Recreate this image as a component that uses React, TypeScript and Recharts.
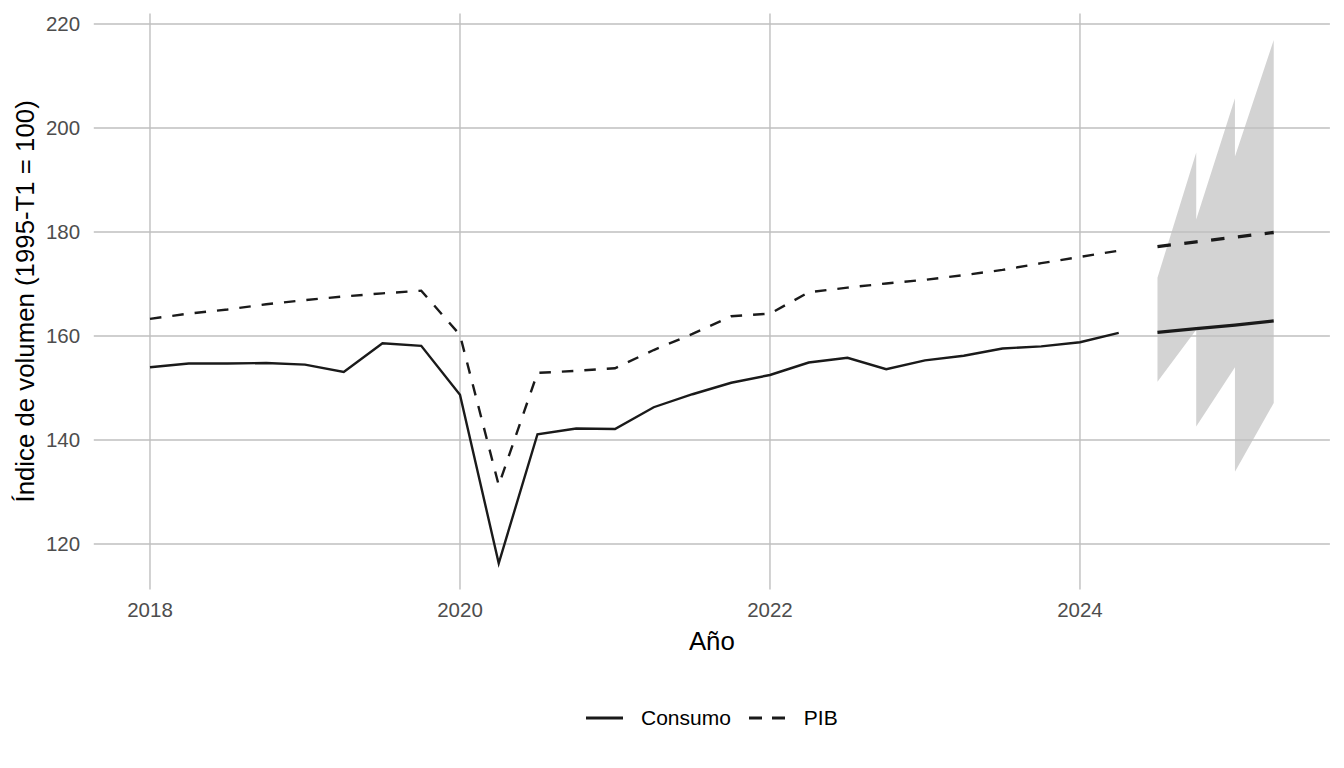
import { ComposedChart, Line, Area, XAxis, YAxis, ReferenceLine, Label } from 'recharts';

// historical quarters (year fraction)
const quarters = [
  2018, 2018.25, 2018.5, 2018.75, 2019, 2019.25, 2019.5, 2019.75,
  2020, 2020.25, 2020.5, 2020.75, 2021, 2021.25, 2021.5, 2021.75,
  2022, 2022.25, 2022.5, 2022.75, 2023, 2023.25, 2023.5, 2023.75,
  2024, 2024.25,
];

const consumo = [
  154.0, 154.7, 154.7, 154.8, 154.5, 153.1, 158.6, 158.1,
  148.7, 116.3, 141.1, 142.2, 142.1, 146.3, 148.8, 151.0,
  152.5, 154.9, 155.8, 153.6, 155.3, 156.2, 157.6, 158.0,
  158.8, 160.6,
];

const pib = [
  163.3, 164.3, 165.1, 166.1, 166.9, 167.6, 168.2, 168.7,
  160.2, 131.3, 152.9, 153.3, 153.8, 157.3, 160.4, 163.8,
  164.3, 168.4, 169.3, 170.1, 170.8, 171.7, 172.7, 174.0,
  175.2, 176.4,
];

// forecast
const forecastQuarters = [2024.5, 2024.75, 2025, 2025.25];
const consumoForecast = [160.7, 161.4, 162.1, 162.9];
const pibForecast = [177.2, 178.1, 179.0, 179.9];

// interval band (rows as drawn, both series share one ribbon)
const ribbonX = [2024.5, 2024.75, 2024.75, 2025, 2025, 2025.25];
const ribbonLo = [151.2, 161.2, 142.6, 154.0, 133.9, 147.1];
const ribbonHi = [171.2, 195.3, 182.4, 205.7, 194.5, 216.9];

const xTicks = [2018, 2020, 2022, 2024];
const yTicks = [120, 140, 160, 180, 200, 220];

const consumoData = quarters.map((x, i) => ({ x, v: consumo[i] }));
const pibData = quarters.map((x, i) => ({ x, v: pib[i] }));
const consumoFcData = forecastQuarters.map((x, i) => ({ x, v: consumoForecast[i] }));
const pibFcData = forecastQuarters.map((x, i) => ({ x, v: pibForecast[i] }));
const ribbonData = ribbonX.map((x, i) => ({ x, band: [ribbonLo[i], ribbonHi[i]] }));

const FONT = '"Liberation Sans", Arial, Helvetica, sans-serif';
const INK = '#1a1a1a';
const GRID = '#bfbfbf';

const YTitle = ({ viewBox }: any) => {
  const cy = viewBox.y + viewBox.height / 2;
  return (
    <text
      x={34}
      y={cy}
      transform={`rotate(-90, 34, ${cy})`}
      textAnchor="middle"
      fontSize={25.8}
      fill="#000"
      fontFamily={FONT}
    >
      Índice de volumen (1995-T1 = 100)
    </text>
  );
};

function LegendKey({ dashed }: { dashed?: boolean }) {
  return (
    <svg width={37} height={30} style={{ display: 'block' }}>
      <line
        x1={0}
        x2={37}
        y1={15}
        y2={15}
        stroke={INK}
        strokeWidth={2.8}
        strokeDasharray={dashed ? '13 10' : undefined}
      />
    </svg>
  );
}

export default function App() {
  return (
    <div style={{ position: 'absolute', left: 0, top: 0, width: 1344, height: 768, background: '#fff', fontFamily: FONT }}>
      <ComposedChart
        width={1344}
        height={768}
        margin={{ top: 13.4, right: 14.1, left: 0, bottom: 113.6 }}
      >
        <XAxis
          dataKey="x"
          type="number"
          domain={[2017.6375, 2025.6125]}
          ticks={xTicks}
          allowDataOverflow
          axisLine={false}
          tickLine={false}
          tickSize={0}
          tickMargin={13}
          height={65}
          tick={{ fontSize: 20.5, fill: '#4d4d4d', fontFamily: FONT }}
        >
          <Label value="Año" position="insideBottom" offset={4.4} fontSize={25.8} fill="#000" fontFamily={FONT} />
        </XAxis>
        <YAxis
          type="number"
          domain={[111.27, 222.03]}
          ticks={yTicks}
          allowDataOverflow
          axisLine={false}
          tickLine={false}
          tickSize={0}
          tickMargin={13.7}
          width={93.8}
          tick={{ fontSize: 20.5, fill: '#4d4d4d', fontFamily: FONT }}
        >
          <Label content={YTitle} />
        </YAxis>
        {yTicks.map((t) => (
          <ReferenceLine key={`h-${t}`} y={t} stroke={GRID} strokeWidth={1.4} />
        ))}
        {xTicks.map((t) => (
          <ReferenceLine key={`v-${t}`} x={t} stroke={GRID} strokeWidth={1.4} />
        ))}
        <Area
          data={ribbonData}
          dataKey="band"
          type="linear"
          stroke="none"
          fill="#808080"
          fillOpacity={0.35}
          isAnimationActive={false}
          activeDot={false}
        />
        <Line data={consumoData} dataKey="v" type="linear" stroke={INK} strokeWidth={2.4} dot={false} activeDot={false} isAnimationActive={false} />
        <Line data={pibData} dataKey="v" type="linear" stroke={INK} strokeWidth={2.4} strokeDasharray="11.5 11" dot={false} activeDot={false} isAnimationActive={false} />
        <Line data={consumoFcData} dataKey="v" type="linear" stroke={INK} strokeWidth={3.3} dot={false} activeDot={false} isAnimationActive={false} />
        <Line data={pibFcData} dataKey="v" type="linear" stroke={INK} strokeWidth={3.3} strokeDasharray="13.5 13.5" dot={false} activeDot={false} isAnimationActive={false} />
      </ComposedChart>
      <div
        style={{
          position: 'absolute',
          left: 93.8,
          width: 1236.1,
          top: 703.4,
          height: 30,
          display: 'flex',
          justifyContent: 'center',
          alignItems: 'center',
          fontSize: 21,
          lineHeight: '30px',
          color: '#000',
        }}
      >
        <LegendKey />
        <span style={{ marginLeft: 18, marginRight: 18 }}>Consumo</span>
        <LegendKey dashed />
        <span style={{ marginLeft: 18 }}>PIB</span>
      </div>
    </div>
  );
}
